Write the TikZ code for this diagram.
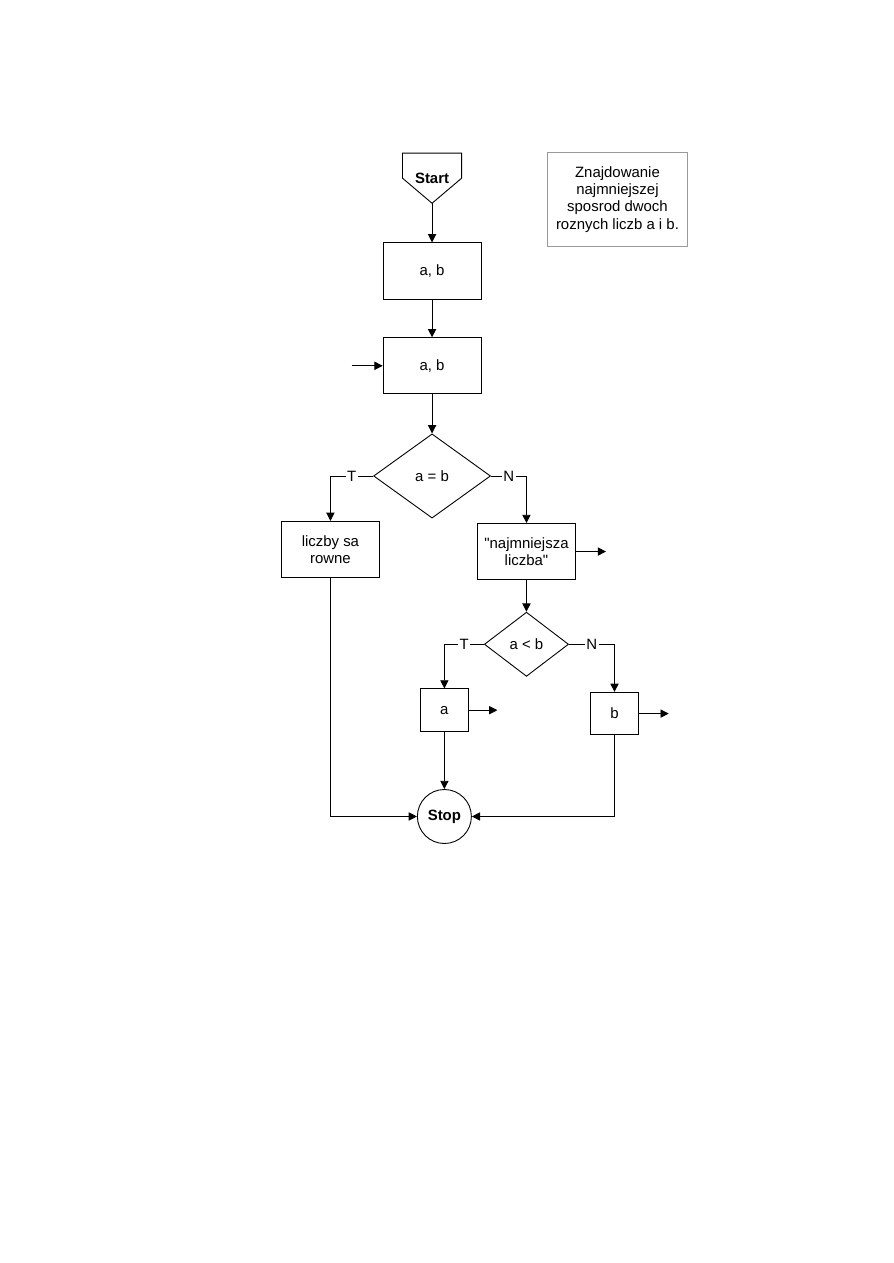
\documentclass[tikz,border=0pt]{standalone}
\usepackage{fontspec}
\setmainfont{Liberation Sans}
\usetikzlibrary{shapes.geometric,arrows.meta,positioning}
\definecolor{NoteGray}{HTML}{9A9A9A}
\tikzset{
  block/.style={rectangle,draw=black,line width=0.6pt,minimum width=2.3cm,minimum height=1.32cm,align=center,font=\fontsize{10}{11.5}\selectfont},
  smallblock/.style={block,minimum width=1.11cm,minimum height=1cm},
  decision/.style={diamond,draw=black,line width=0.6pt,inner sep=0pt,minimum width=2.75cm,minimum height=1.98cm,align=center,font=\fontsize{10}{11.5}\selectfont},
  terminal/.style={rectangle,outer sep=0pt,minimum width=1.39cm,minimum height=1.18cm,inner sep=0pt,font=\fontsize{10}{11.5}\selectfont\bfseries},
  stopnode/.style={circle,draw=black,line width=0.6pt,minimum size=1.27cm,inner sep=0pt,font=\fontsize{10}{11.5}\selectfont\bfseries},
  note/.style={rectangle,draw=NoteGray,line width=0.6pt,minimum width=3.27cm,minimum height=2.19cm,align=center,font=\fontsize{10}{11.5}\selectfont},
  label/.style={fill=white,inner sep=1pt,font=\fontsize{10}{11.5}\selectfont},
  arrow/.style={-{Triangle[length=5.5pt,width=5.5pt]},line width=0.6pt},
}
\begin{document}
\begin{tikzpicture}[node distance=0.9cm]
  \useasboundingbox (0,0) rectangle (21,-29.7);
  \node[terminal] (start) at (10.16,-4.19) {Start};
  \draw[line width=0.6pt] (start.north west) -- (start.north east) -- (start.east) -- (start.south) -- (start.west) -- cycle;
  \node[block, below=0.92cm of start] (input) {a, b};
  \node[block, below=0.89cm of input] (loop) {a, b};
  \node[decision, below=0.92cm of loop] (equal) {a = b};
  \node[block] (same) at (7.77,-12.92) {liczby sa\\rowne};
  \node[block] (smaller) at (12.38,-12.97) {\textquotedbl najmniejsza\\liczba\textquotedbl};
  \node[decision, minimum width=1.98cm, minimum height=1.51cm] (less) at (12.38,-15.15) {a < b};
  \node[smallblock] (outa) at (10.45,-16.70) {a};
  \node[smallblock] (outb) at (14.45,-16.78) {b};
  \node[stopnode] (stop) at (10.45,-19.20) {Stop};
  \node[note] (title) at (14.52,-4.69) {Znajdowanie\\najmniejszej\\sposrod dwoch\\roznych liczb a i b.};

  \coordinate[left=0.73cm of loop.west] (back);
  \coordinate[right=0.71cm of smaller.east] (outS);
  \coordinate[right=0.68cm of outa.east] (outA);
  \coordinate[right=0.71cm of outb.east] (outB);

  \draw[arrow] (start) -- (input);
  \draw[arrow] (input) -- (loop);
  \draw[arrow] (back) -- (loop);
  \draw[arrow] (loop) -- (equal);
  \draw[arrow] (equal.west) -- node[label]{T} (equal.west -| same) -- (same);
  \draw[arrow] (equal.east) -- node[label]{N} (equal.east -| smaller) -- (smaller);
  \draw[arrow] (smaller) -- (outS);
  \draw[arrow] (smaller) -- (less);
  \draw[arrow] (less.west) -- node[label]{T} (less.west -| outa) -- (outa);
  \draw[arrow] (less.east) -- node[label]{N} (less.east -| outb) -- (outb);
  \draw[arrow] (outa) -- (outA);
  \draw[arrow] (outb) -- (outB);
  \draw[arrow] (outa) -- (stop);
  \draw[arrow] (same) -- (same |- stop) -- (stop);
  \draw[arrow] (outb) -- (outb |- stop) -- (stop);
\end{tikzpicture}
\end{document}
